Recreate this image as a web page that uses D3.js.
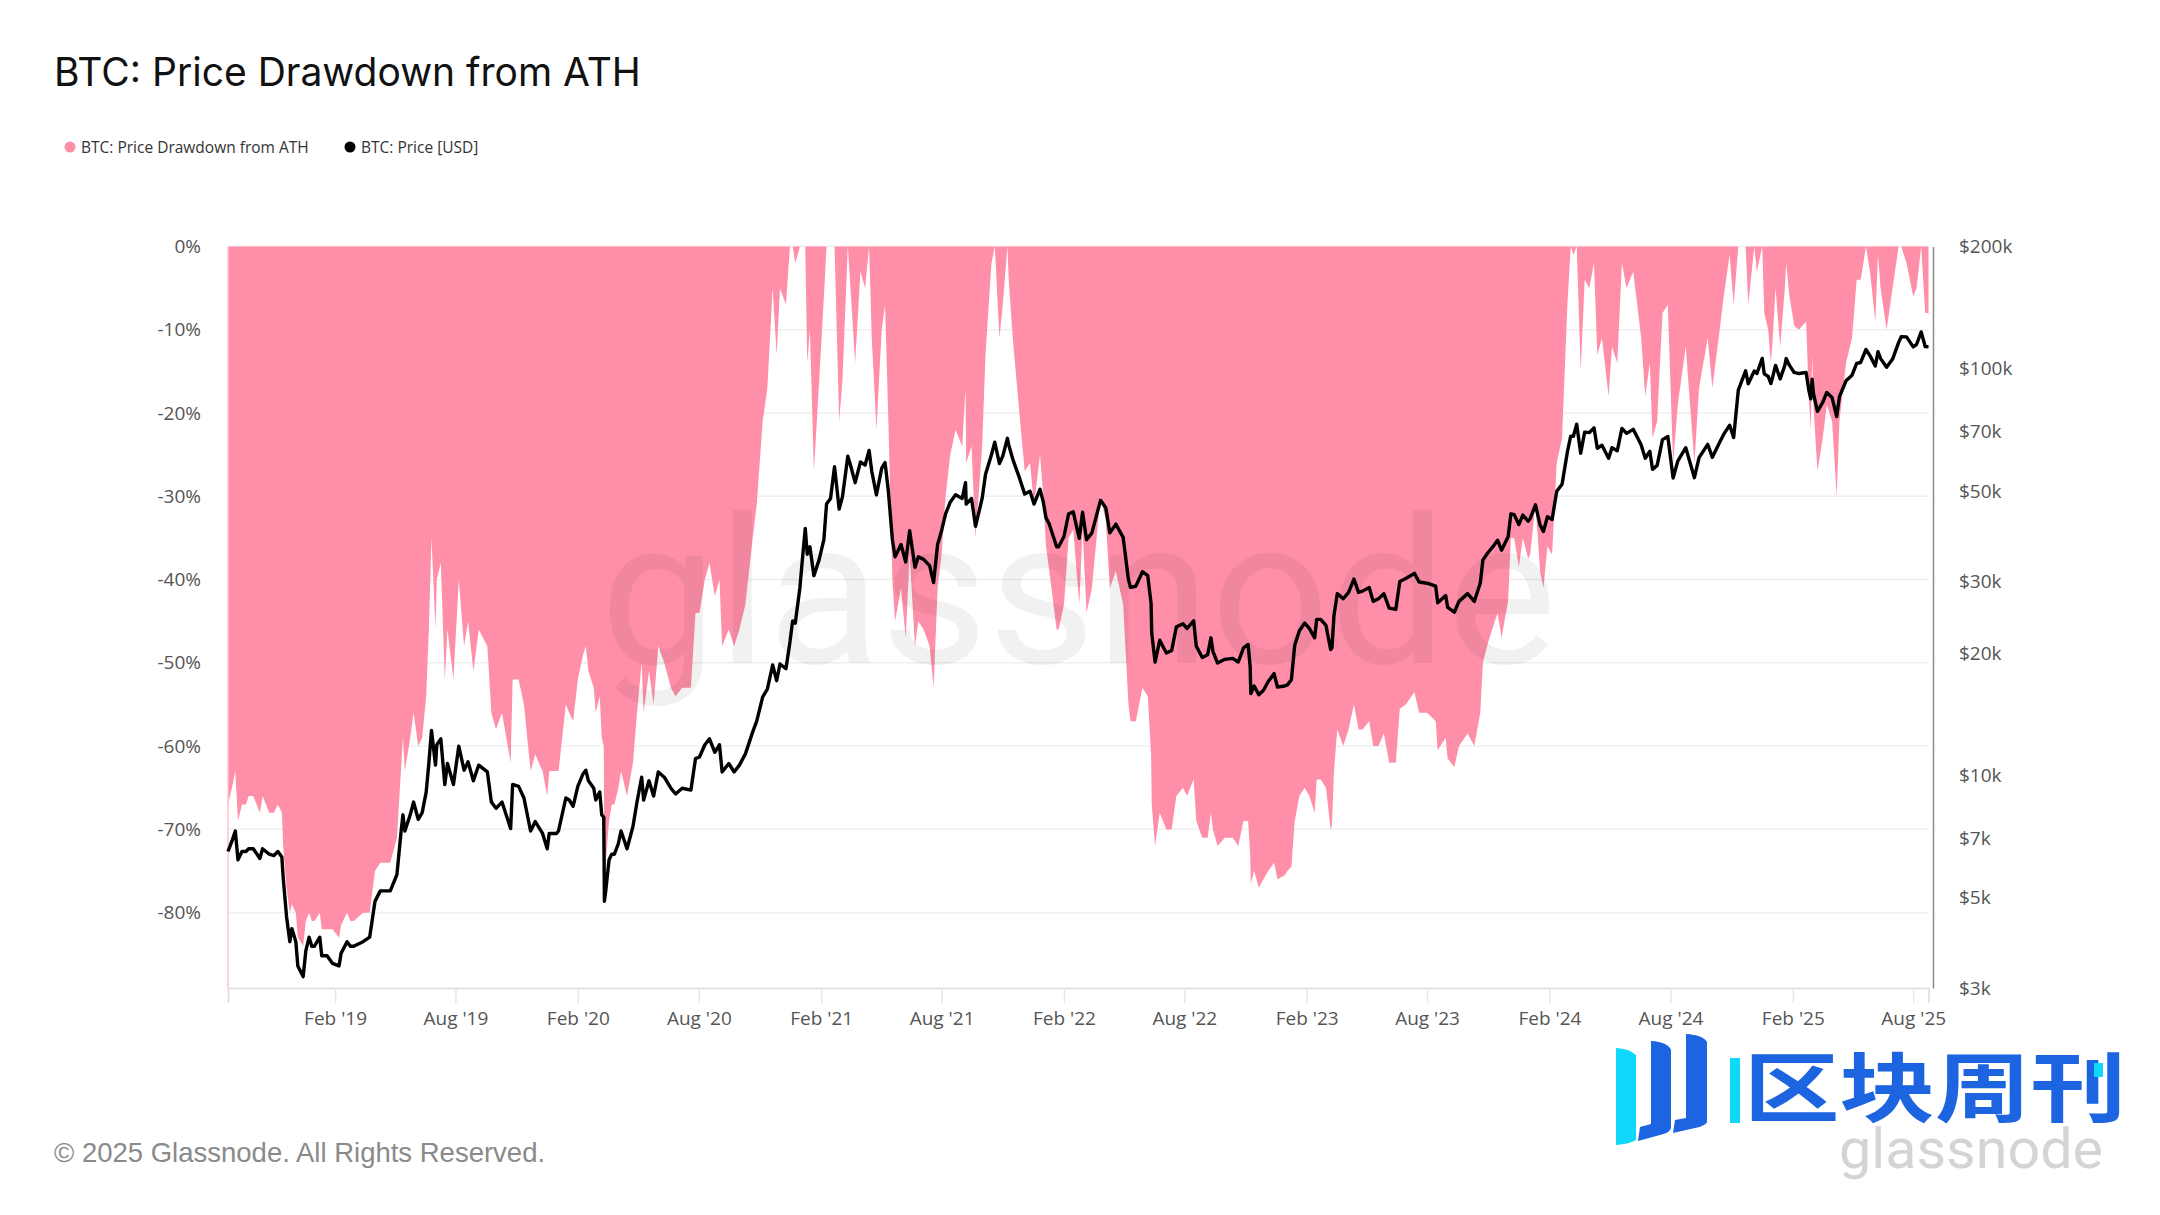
<!DOCTYPE html>
<html>
<head>
<meta charset="utf-8">
<script src="https://cdn.jsdelivr.net/npm/d3@7"></script>
<style>
  html, body { margin: 0; padding: 0; background: #fff; }
  svg { display: block; }
  .tick-label text { font-family: "Open Sans", sans-serif; font-size: 19px; fill: #555; }
</style>
</head>
<body>
<svg id="chart" width="2160" height="1215"></svg>
<script>
const dates = [
  '2018-08-24','2018-08-30','2018-09-04','2018-09-08','2018-09-14','2018-09-20','2018-09-24','2018-10-01','2018-10-11','2018-10-15',
  '2018-10-25','2018-11-01','2018-11-07','2018-11-13','2018-11-15','2018-11-20','2018-11-25','2018-11-28','2018-12-04','2018-12-07',
  '2018-12-15','2018-12-19','2018-12-24','2018-12-28','2019-01-01','2019-01-09','2019-01-12','2019-01-20','2019-01-28','2019-02-07',
  '2019-02-10','2019-02-19','2019-02-24','2019-03-01','2019-03-15','2019-03-25','2019-04-02','2019-04-10','2019-04-17','2019-04-25',
  '2019-05-05','2019-05-11','2019-05-14','2019-05-17','2019-05-25','2019-05-30','2019-06-06','2019-06-12','2019-06-18','2019-06-22',
  '2019-06-26','2019-07-02','2019-07-04','2019-07-10','2019-07-16','2019-07-20','2019-07-29','2019-08-06','2019-08-14','2019-08-20',
  '2019-08-28','2019-09-05','2019-09-18','2019-09-24','2019-10-01','2019-10-10','2019-10-23','2019-10-26','2019-11-04','2019-11-12',
  '2019-11-22','2019-11-29','2019-12-10','2019-12-17','2019-12-20','2019-12-31','2020-01-03','2020-01-14','2020-01-19','2020-01-25',
  '2020-02-01','2020-02-09','2020-02-13','2020-02-17','2020-02-25','2020-02-28','2020-03-05','2020-03-08','2020-03-11','2020-03-12',
  '2020-03-14','2020-03-19','2020-03-23','2020-03-27','2020-04-02','2020-04-06','2020-04-15','2020-04-24','2020-04-30','2020-05-07',
  '2020-05-10','2020-05-18','2020-05-25','2020-06-01','2020-06-10','2020-06-20','2020-06-27','2020-07-07','2020-07-20','2020-07-27',
  '2020-08-02','2020-08-10','2020-08-17','2020-08-25','2020-09-01','2020-09-05','2020-09-15','2020-09-23','2020-10-01','2020-10-10',
  '2020-10-21','2020-10-27','2020-11-05','2020-11-12','2020-11-20','2020-11-26','2020-12-01','2020-12-10','2020-12-16','2020-12-20',
  '2020-12-24','2020-12-31','2021-01-03','2021-01-08','2021-01-11','2021-01-15','2021-01-21','2021-01-29','2021-02-05','2021-02-09',
  '2021-02-15','2021-02-21','2021-02-28','2021-03-05','2021-03-13','2021-03-17','2021-03-24','2021-04-01','2021-04-08','2021-04-14',
  '2021-04-18','2021-04-25','2021-05-03','2021-05-08','2021-05-13','2021-05-19','2021-05-23','2021-06-01','2021-06-08','2021-06-14',
  '2021-06-22','2021-06-27','2021-07-05','2021-07-14','2021-07-20','2021-07-26','2021-08-01','2021-08-07','2021-08-14','2021-08-22',
  '2021-09-01','2021-09-06','2021-09-07','2021-09-15','2021-09-21','2021-10-01','2021-10-06','2021-10-15','2021-10-20','2021-10-27',
  '2021-11-01','2021-11-08','2021-11-10','2021-11-16','2021-11-26','2021-12-04','2021-12-12','2021-12-18','2021-12-27','2022-01-01',
  '2022-01-05','2022-01-10','2022-01-21','2022-01-24','2022-02-01','2022-02-08','2022-02-15','2022-02-24','2022-03-01','2022-03-07',
  '2022-03-15','2022-03-28','2022-04-05','2022-04-11','2022-04-20','2022-05-01','2022-05-09','2022-05-12','2022-05-20','2022-05-30',
  '2022-06-07','2022-06-12','2022-06-13','2022-06-18','2022-06-25','2022-07-05','2022-07-13','2022-07-20','2022-07-30','2022-08-05',
  '2022-08-15','2022-08-19','2022-08-28','2022-09-05','2022-09-10','2022-09-13','2022-09-20','2022-10-01','2022-10-13','2022-10-21',
  '2022-10-29','2022-11-05','2022-11-08','2022-11-09','2022-11-14','2022-11-21','2022-11-28','2022-12-05','2022-12-14','2022-12-19',
  '2022-12-30','2023-01-03','2023-01-09','2023-01-14','2023-01-21','2023-01-29','2023-02-05','2023-02-13','2023-02-16','2023-02-22',
  '2023-03-02','2023-03-09','2023-03-11','2023-03-14','2023-03-19','2023-03-28','2023-04-05','2023-04-13','2023-04-20','2023-04-26',
  '2023-05-06','2023-05-12','2023-05-20','2023-05-28','2023-06-05','2023-06-15','2023-06-21','2023-06-30','2023-07-13','2023-07-20',
  '2023-08-01','2023-08-14','2023-08-17','2023-08-29','2023-09-01','2023-09-11','2023-09-18','2023-10-01','2023-10-11','2023-10-20',
  '2023-10-24','2023-11-01','2023-11-09','2023-11-15','2023-11-21','2023-12-01','2023-12-05','2023-12-10','2023-12-17','2023-12-23',
  '2023-12-31','2024-01-03','2024-01-11','2024-01-18','2024-01-23','2024-01-29','2024-02-05','2024-02-12','2024-02-20','2024-02-28',
  '2024-03-04','2024-03-08','2024-03-13','2024-03-19','2024-03-25','2024-04-01','2024-04-08','2024-04-13','2024-04-20','2024-04-30',
  '2024-05-05','2024-05-13','2024-05-20','2024-05-27','2024-06-06','2024-06-12','2024-06-18','2024-06-24','2024-07-01','2024-07-05',
  '2024-07-12','2024-07-20','2024-07-28','2024-08-05','2024-08-12','2024-08-24','2024-09-06','2024-09-13','2024-09-26','2024-10-03',
  '2024-10-14','2024-10-20','2024-10-29','2024-11-04','2024-11-11','2024-11-22','2024-11-26','2024-12-05','2024-12-09','2024-12-17',
  '2024-12-20','2024-12-26','2024-12-30','2025-01-01','2025-01-06','2025-01-13','2025-01-20','2025-01-22','2025-01-27','2025-02-03',
  '2025-02-10','2025-02-21','2025-02-25','2025-02-28','2025-03-02','2025-03-04','2025-03-10','2025-03-18','2025-03-24','2025-04-01',
  '2025-04-08','2025-04-12','2025-04-22','2025-05-01','2025-05-08','2025-05-14','2025-05-22','2025-05-28','2025-06-05','2025-06-09',
  '2025-06-13','2025-06-22','2025-07-01','2025-07-10','2025-07-14','2025-07-22','2025-08-01','2025-08-06','2025-08-13','2025-08-19',
  '2025-08-24'
]

// BTC price in thousands of USD
const price = [
  6.5,6.9,7.3,6.2,6.5,6.5,6.6,6.6,6.25,6.6,
  6.4,6.35,6.5,6.3,5.6,4.5,3.9,4.2,3.9,3.4,
  3.2,3.7,4.0,3.8,3.8,4.0,3.6,3.6,3.45,3.4,
  3.65,3.9,3.8,3.8,3.9,4.0,4.9,5.2,5.2,5.2,
  5.7,7.2,8.0,7.3,8.0,8.6,7.8,8.1,9.1,10.7,
  12.9,10.6,11.9,12.3,9.5,10.7,9.5,11.8,10.3,10.8,
  9.7,10.6,10.2,8.6,8.3,8.6,7.4,9.5,9.4,8.8,
  7.3,7.7,7.2,6.6,7.2,7.2,7.3,8.8,8.7,8.4,
  9.4,10.1,10.3,9.7,9.3,8.7,9.1,8.0,7.9,4.9,
  5.2,6.2,6.4,6.4,6.8,7.3,6.6,7.5,8.6,9.9,
  8.7,9.7,8.9,10.2,9.9,9.3,9.0,9.3,9.2,11.0,
  11.1,11.9,12.3,11.4,11.9,10.2,10.7,10.2,10.6,11.3,
  12.8,13.6,15.6,16.3,18.7,17.1,18.8,18.3,21.3,24.0,
  23.7,29,33,40.5,35,36.5,31,34,38,46.5,
  48,57.5,45.2,48.5,61,58,52.5,59,58,63,
  56,49,57,58.8,50,38,34.5,37,33.5,40,
  32.5,34.5,34,32.8,29.8,37,40,44,47,49,
  48,52.5,46.5,48,41,48,55,61.5,66,58.5,
  61,67.5,65,60,54,49.2,50,46.5,50.6,47,
  43,41.5,36.5,36.5,38.7,44,44.5,38.3,44.4,38,
  39.5,47.5,45.5,39.5,41.5,38.5,30.3,29,29.2,31.7,
  31,26.5,22.4,19,21.5,20,20.3,23.2,23.6,23,
  24,20.8,19.5,19.8,21.8,20.2,18.9,19.3,19.4,19,
  20.6,21,18.5,15.9,16.6,15.8,16.2,17,17.8,16.5,
  16.6,16.7,17.2,20.9,22.7,23.7,23,21.8,24.2,24.2,
  23.4,20.4,20.6,24.7,28,27.2,28.2,30.4,28.2,28.4,
  29,26.8,27.2,28,25.8,25.6,30,30.5,31.4,29.9,
  29.7,29.2,26.6,27.7,25.9,25.2,26.8,28,26.8,29.7,
  33.9,35.4,36.7,37.9,35.8,38.7,44,43.8,41.4,43.7,
  42.2,42.8,46.3,41.3,39.8,43.3,42.6,50,52,62.5,
  68.3,68.3,73.1,62,69.9,69.7,71.6,63.8,64.9,60.3,
  64,62.9,71.4,69.4,71,68,65,60.3,62.7,56.6,
  57.9,67,68.2,53.9,59.3,64,54,60.5,65.2,60.6,
  66,69,72.7,67.8,88.7,98.9,91.9,98.8,97.4,106.1,
  97.2,95.8,92,94.5,102,94.5,102,106,102,98,
  97.4,98,88.7,84.4,94.3,87,78.6,82.7,87.5,85,
  76.3,85.3,93.5,96.5,103.2,103.7,111.6,107.8,101.6,110.2,
  106,100.9,105.7,116,120,119.9,113.3,114.8,123.3,113.5,
  113.4
]

// drawdown from ATH in percent
const drawdown = [
  -67,-65,-63,-69,-67,-67,-66,-66,-68,-66,
  -68,-68,-67,-68,-72,-77,-80,-79,-80,-83,
  -84,-81,-80,-81,-81,-80,-82,-82,-82,-83,
  -81.5,-80,-81,-81,-80,-80,-75,-74,-74,-74,
  -71,-63,-59,-63,-59,-56,-60,-59,-54,-46,
  -35,-46,-40,-38,-52,-46,-52,-40,-48,-45,
  -51,-46,-48,-56,-58,-56,-62,-52,-52,-55,
  -63,-61,-63,-66,-63,-63,-63,-55,-56,-57,
  -52,-49,-48,-51,-53,-56,-54,-59,-60,-75,
  -74,-69,-67,-67,-65,-63,-66,-62,-56,-50,
  -56,-51,-55,-48,-50,-53,-54,-53,-53,-44,
  -44,-40,-38,-42,-40,-48,-46,-48,-46,-43,
  -35,-31,-21,-17,-5,-13,-5,-7,0,0,
  -2,0,0,0,-14,-10,-27,-16,-6,0,
  0,0,-21,-16,0,-5,-14,-3,-5,0,
  -11,-22,-10,-7,-21,-40,-45,-41,-47,-37,
  -48,-45,-46,-48,-53,-41,-37,-30,-25,-22,
  -24,-17,-26,-24,-35,-24,-13,-2,0,-11,
  -7,0,-4,-11,-20,-27,-26,-31,-25,-30,
  -36,-39,-46,-46,-43,-35,-34,-43,-34,-44,
  -41,-30,-33,-41,-39,-43,-55,-57,-57,-53,
  -54,-61,-67,-72,-68,-70,-70,-66,-65,-66,
  -64,-69,-71,-71,-68,-70,-72,-71,-71,-72,
  -69,-69,-73,-76.5,-75,-77,-76,-75,-74,-76,
  -75.5,-75,-74.5,-69,-66,-65,-66,-68,-64,-64,
  -65,-70,-69.5,-63,-58,-60,-58,-55,-58,-58,
  -57,-60,-60,-58.5,-62,-62,-55.5,-55,-53.5,-56,
  -56,-57,-60.5,-59,-61.5,-62.5,-60,-58.5,-60,-56,
  -50,-47.5,-45.5,-44,-47,-42.5,-35,-35,-38.5,-35,
  -37.5,-37,-31,-39,-41,-36,-37,-26,-23,-7,
  0,-1,0,-15,-4,-5,-2,-13,-11,-18,
  -12,-14,-2,-5,-3,-7,-11,-18,-14,-23,
  -21,-8,-7,-26,-19,-12,-26,-17,-11,-17,
  -10,-6,-1,-7,0,0,-7,0,-3,0,
  -8,-10,-14,-12,-5,-12,-5,-2,-6,-9.5,
  -10,-9,-18,-22,-13,-19,-27,-23,-19,-21,
  -30,-21,-14,-11,-4,-4,0,-3,-9,-1,
  -5,-10,-5,0,0,-2,-6,-5,0,-8,
  -8
]

const ddTicks = [0, -10, -20, -30, -40, -50, -60, -70, -80]
const priceTicks = [200, 100, 70, 50, 30, 20, 10, 7, 5, 3]
const timeTicks = ['2019-02-01','2019-08-01','2020-02-01','2020-08-01','2021-02-01','2021-08-01','2022-02-01','2022-08-01','2023-02-01','2023-08-01','2024-02-01','2024-08-01','2025-02-01','2025-08-01']

const parseDate = d3.utcParse('%Y-%m-%d')
const margin = { top: 246.5, right: 1933, bottom: 988, left: 228 }

const xScale = d3.scaleUtc()
  .domain([parseDate('2018-08-24'), parseDate('2025-08-24')])
  .range([margin.left, 1928.5])
const yLeft = d3.scaleLinear().domain([0, -89.05]).range([margin.top, margin.bottom])
const yRight = d3.scaleLog().domain([200, 3]).range([margin.top, margin.bottom])

const rows = d3.zip(dates, price, drawdown).map(([d, p, dd]) => ({ date: parseDate(d), price: p, dd }))
if (dates.length !== price.length || dates.length !== drawdown.length) throw new Error('length mismatch')

const svg = d3.select('#chart')

// gridlines
svg.append('g').selectAll('line')
  .data(ddTicks)
  .enter().append('line')
    .attr('x1', margin.left)
    .attr('x2', margin.right - 4)
    .attr('y1', d => yLeft(d))
    .attr('y2', d => yLeft(d))
    .attr('stroke', '#efefef')
    .attr('stroke-width', 1.5)

// drawdown area
const area = d3.area()
  .x(d => xScale(d.date))
  .y0(yLeft(0))
  .y1(d => yLeft(d.dd))

svg.append('path')
  .datum(rows)
  .attr('d', area)
  .attr('fill', '#ff8fa8')

// thin pink edge at the start of the series
svg.append('line')
  .attr('x1', margin.left).attr('x2', margin.left)
  .attr('y1', margin.top).attr('y2', margin.bottom)
  .attr('stroke', '#ffc4d2').attr('stroke-width', 1.5)

// big watermark
svg.append('text')
  .attr('x', 600).attr('y', 663)
  .attr('textLength', 957)
  .attr('lengthAdjust', 'spacingAndGlyphs')
  .style('font-family', 'Roboto, sans-serif')
  .style('font-size', '205px')
  .attr('fill', 'rgba(0,0,0,0.055)')
  .text('glassnode')

// price line
const line = d3.line()
  .x(d => xScale(d.date))
  .y(d => yRight(d.price))

svg.append('path')
  .datum(rows)
  .attr('d', line)
  .attr('fill', 'none')
  .attr('stroke', '#000')
  .attr('stroke-width', 3.4)
  .attr('stroke-linejoin', 'round')

// axes
const xAxis = d3.axisBottom(xScale)
  .tickValues(timeTicks.map(parseDate))
  .tickFormat(d3.utcFormat("%b '%y"))
  .tickSize(15)
  .tickPadding(9)

const gx = svg.append('g')
  .attr('class', 'tick-label')
  .attr('transform', `translate(0, ${margin.bottom})`)
  .call(xAxis)
gx.select('.domain').attr('stroke', '#dcdcdc').attr('stroke-width', 1.5)
gx.selectAll('.tick line').attr('stroke', '#e6e6e6').attr('stroke-width', 1.5)

const gl = svg.append('g')
  .attr('class', 'tick-label')
  .attr('transform', `translate(${margin.left}, 0)`)
  .call(d3.axisLeft(yLeft).tickValues(ddTicks).tickFormat(d => d + '%').tickSize(0).tickPadding(27))
gl.select('.domain').remove()

const gr = svg.append('g')
  .attr('class', 'tick-label')
  .attr('transform', `translate(${margin.right}, 0)`)
  .call(d3.axisRight(yRight).tickValues(priceTicks).tickFormat(d => '$' + d + 'k').tickSize(0).tickPadding(26))
gr.select('.domain').attr('stroke', '#8c8c8c').attr('stroke-width', 1.5)

// title and legend
svg.append('text')
  .attr('x', 54).attr('y', 86)
  .style('font-family', 'Inter, sans-serif')
  .style('font-size', '39px')
  .attr('fill', '#111')
  .text('BTC: Price Drawdown from ATH')

const legendItems = [
  { label: 'BTC: Price Drawdown from ATH', color: '#ff8fa8', x: 70 },
  { label: 'BTC: Price [USD]', color: '#000', x: 350 }
]
const legend = svg.append('g').selectAll('g')
  .data(legendItems)
  .enter().append('g')
    .attr('transform', d => `translate(${d.x}, 147)`)
legend.append('circle').attr('r', 5.5).attr('fill', d => d.color)
legend.append('text')
  .attr('x', 11).attr('y', 6)
  .style('font-family', '"Open Sans", sans-serif')
  .style('font-size', '15.5px')
  .attr('fill', '#333')
  .text(d => d.label)

// footer
svg.append('text')
  .attr('x', 54).attr('y', 1162)
  .style('font-family', '"Liberation Sans", sans-serif')
  .style('font-size', '27.5px')
  .attr('fill', '#8a8a8a')
  .text('© 2025 Glassnode. All Rights Reserved.')

// logo overlay
const logo = svg.append('g')
logo.append('path').attr('fill', '#0fd8fb').attr('d', 'M1616 1048 Q1630 1049 1636 1055 L1636 1140 Q1630 1144 1616 1145 Z')
logo.append('path').attr('fill', '#1c64e0').attr('d', 'M1651 1041 Q1668 1042 1671 1050 L1671 1128 Q1670 1133 1660 1135 L1638 1141 L1640 1127 L1651 1124 Z')
logo.append('path').attr('fill', '#1c64e0').attr('d', 'M1686 1034 Q1703 1035 1707 1042 L1707 1122 Q1705 1126 1695 1128 L1673 1133 L1675 1120 L1686 1118 Z')
logo.append('text')
  .attr('x', 1744).attr('y', 1116)
  .attr('textLength', 382)
  .attr('lengthAdjust', 'spacingAndGlyphs')
  .style('font-family', '"Noto Sans CJK SC", sans-serif')
  .style('font-weight', 700)
  .style('font-size', '76px')
  .attr('fill', '#1c64e0')
  .text('区块周刊')
logo.append('rect').attr('x', 1730).attr('y', 1058).attr('width', 10).attr('height', 65).attr('fill', '#0fd8fb')
logo.append('rect').attr('x', 2094).attr('y', 1063).attr('width', 9).attr('height', 14).attr('fill', '#0fd8fb')
logo.append('text')
  .attr('x', 1839).attr('y', 1168)
  .attr('textLength', 264)
  .attr('lengthAdjust', 'spacingAndGlyphs')
  .style('font-family', 'Roboto, sans-serif')
  .style('font-size', '56px')
  .attr('fill', '#d4d4d4')
  .text('glassnode')
</script>
</body>
</html>
